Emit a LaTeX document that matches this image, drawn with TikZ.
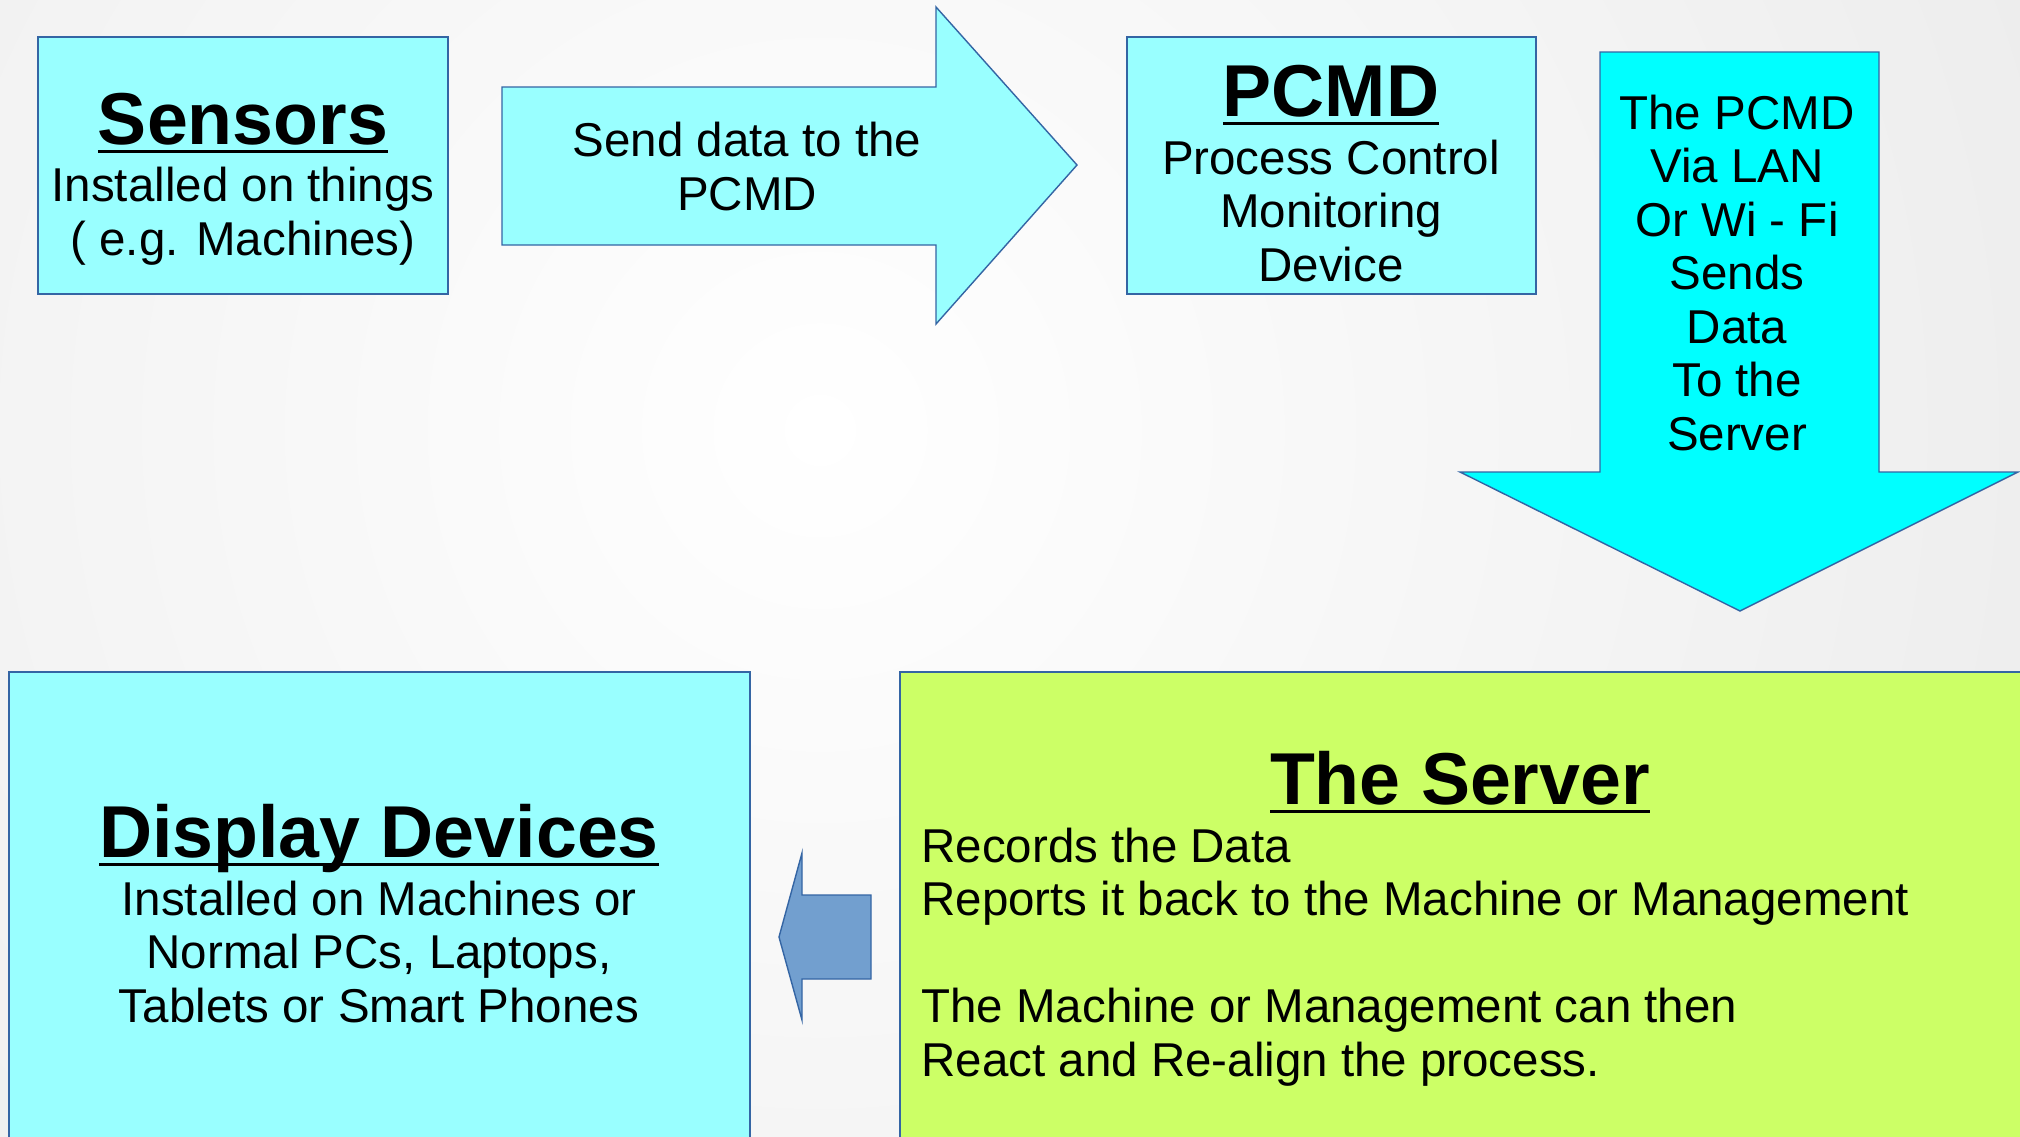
\documentclass[tikz,border=0pt]{standalone}
\usepackage{fontspec}
\setmainfont{Liberation Sans}
\usetikzlibrary{fit}
\definecolor{lcyan}{HTML}{99FFFF}
\definecolor{cyanf}{HTML}{00FFFF}
\definecolor{limef}{HTML}{CCFF66}
\definecolor{bstroke}{HTML}{3465A4}
\definecolor{barrow}{HTML}{729FCF}
\definecolor{bggray}{HTML}{EAEAEA}
\newcommand\myul[1]{\setbox0\hbox{#1}\rlap{\vrule height -2.75pt depth 4.5pt width \wd0}\box0}
\tikzset{
  box/.style={draw=bstroke, line width=0.7pt, inner sep=0pt},
  shp/.style={draw=bstroke, line width=0.7pt, line join=miter},
  body/.style={font=\fontsize{23.75}{26.75}\selectfont, align=center, anchor=base, inner sep=0pt},
  ttl/.style={font=\fontsize{36.75}{40}\selectfont\bfseries, anchor=base, inner sep=0pt},
}
\begin{document}
\begin{tikzpicture}[x=0.5pt, y=-0.5pt]
\path[use as bounding box, fill=bggray] (0,0) rectangle (2020,1136);
\begin{scope}
\clip (0,0) rectangle (2020,1136);
\shade[inner color=white, outer color=bggray] (820,430) circle (1500);

% Sensors
\node[box, fill=lcyan, fit={(38,37)(448,294)}] (sensors) {};
\node[ttl] (sensT) at (243,144) {\myul{Sensors}};
\node[body] (sensB) at (243,255) {Installed on things\\( e.g. Machines)};

% right block arrow
\draw[shp, fill=lcyan] (502,87) -- (936,87) -- (936,7) -- (1077,165) -- (936,324) -- (936,245) -- (502,245) -- cycle;
\node[body] (sendT) at (747,210) {Send data to the\\PCMD};

% PCMD
\node[box, fill=lcyan, fit={(1127,37)(1536,294)}] (pcmd) {};
\node[ttl] (pcmdT) at (1331,116) {\myul{PCMD}};
\node[body] (pcmdB) at (1331,281) {Process Control\\Monitoring\\Device};

% down block arrow
\draw[shp, fill=cyanf] (1600,52) -- (1879,52) -- (1879,472) -- (2018,472) -- (1740,611) -- (1460,472) -- (1600,472) -- cycle;
\node[body] (downT) at (1737,450) {The PCMD\\Via LAN\\Or Wi - Fi\\Sends\\Data\\To the\\Server};

% Display devices
\node[box, fill=lcyan, fit={(9,672)(750,1145)}] (display) {};
\node[ttl] (dispT) at (379,857) {\myul{Display Devices}};
\node[body] (dispB) at (379,1022) {Installed on Machines or\\Normal PCs, Laptops,\\Tablets or Smart Phones};

% Server
\node[box, fill=limef, fit={(900,672)(2030,1145)}] (server) {};
\node[ttl] (servT) at (1460,804) {\myul{The Server}};
\node[body, align=left, anchor=base west] (servB) at (921,1076) {Records the Data\\Reports it back to the Machine or Management\\[26.75pt]The Machine or Management can then\\React and Re-align the process.};

% left block arrow
\draw[shp, fill=barrow] (871,895) -- (802,895) -- (802,853) -- (779,937) -- (802,1020) -- (802,979) -- (871,979) -- cycle;
\end{scope}
\end{tikzpicture}
\end{document}
